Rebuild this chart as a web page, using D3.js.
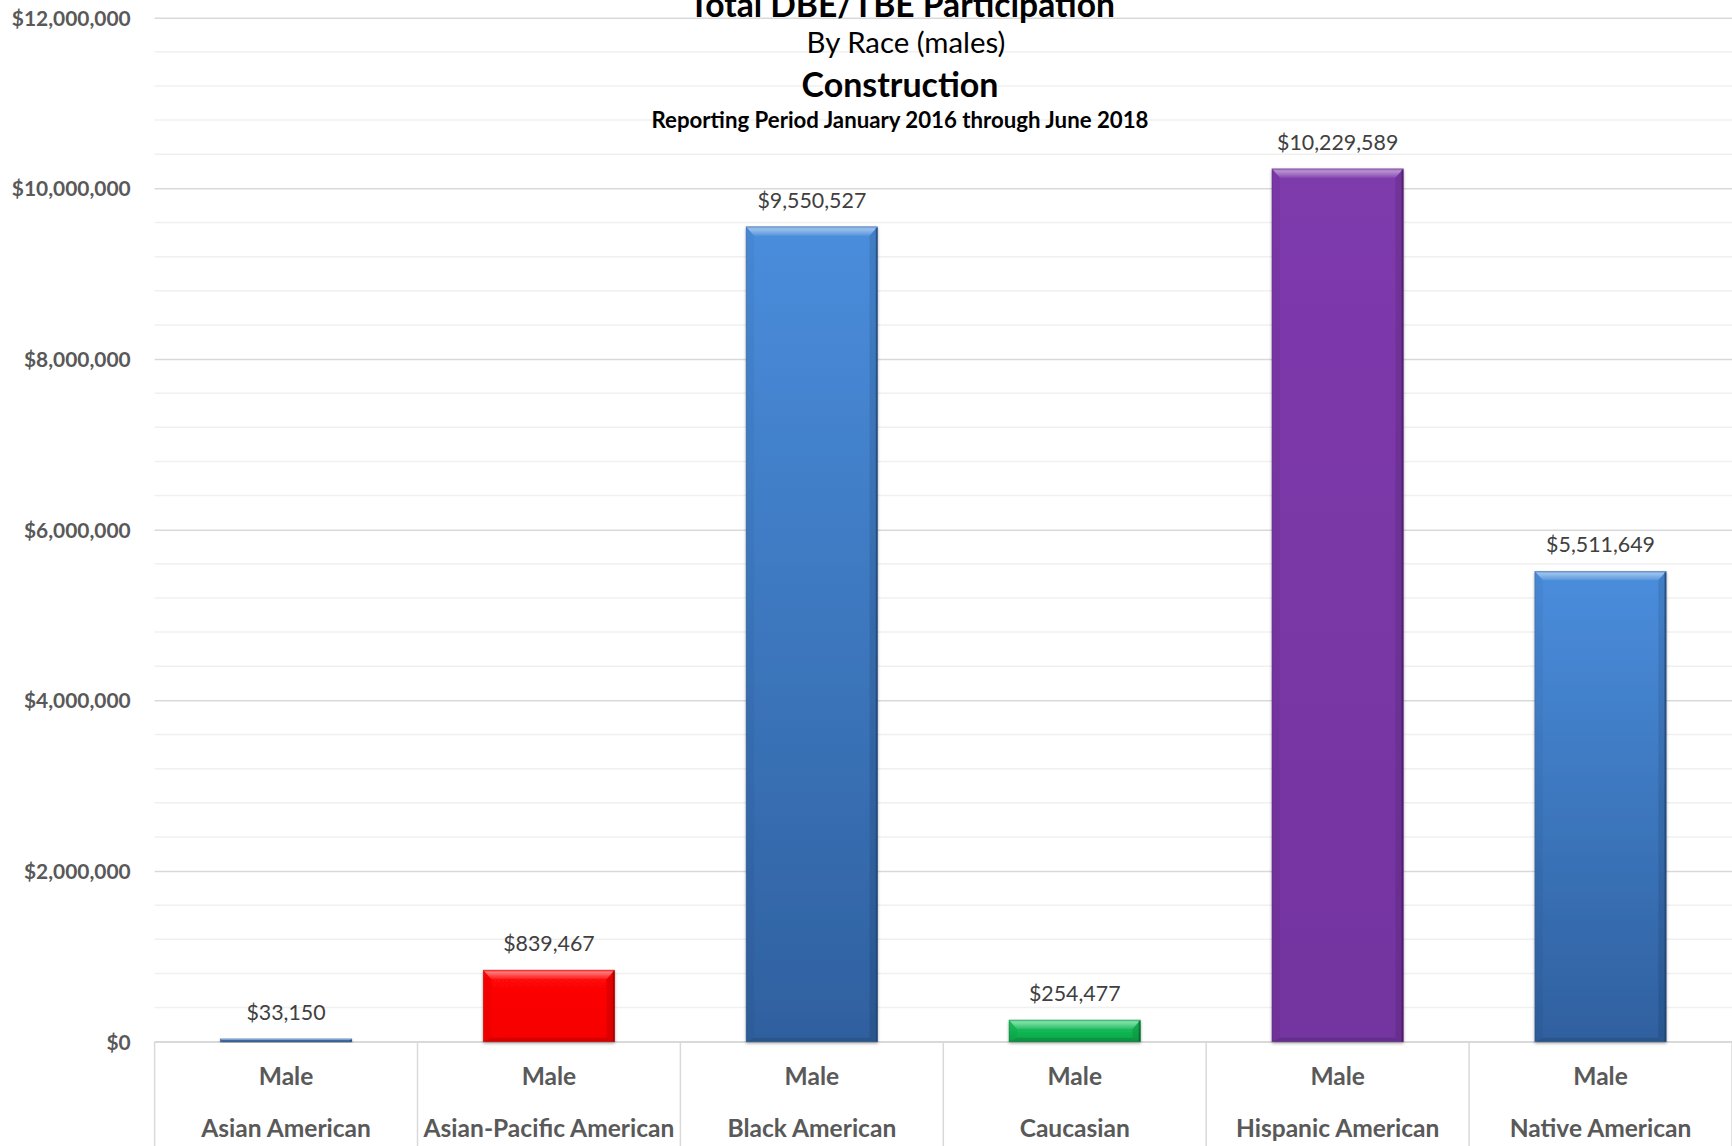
<!DOCTYPE html>
<html>
<head>
<meta charset="utf-8">
<script src="https://cdn.jsdelivr.net/npm/d3@7"></script>
<style>
  html, body { margin: 0; padding: 0; background: #ffffff; }
  svg { display: block; }
</style>
</head>
<body>
<svg id="chart" width="1732" height="1146"></svg>
<script>
// ---------------- data ----------------
const categories = ["Asian American", "Asian-Pacific American", "Black American", "Caucasian", "Hispanic American", "Native American"];
const groupLabel = "Male";
const values = [33150, 839467, 9550527, 254477, 10229589, 5511649];
const yTickValues = [0, 2000000, 4000000, 6000000, 8000000, 10000000, 12000000];
const titleLines = ["Total DBE/TBE Participation", "By Race (males)", "Construction", "Reporting Period January 2016 through June 2018"];

// ---------------- styles ----------------
const barPalette = [
  {top: "#4a8ddc", bottom: "#2f609f", edge: "#1f3f6c"},
  {top: "#ff0808", bottom: "#f50000", edge: "#900000"},
  {top: "#4a8ddc", bottom: "#2f609f", edge: "#1f3f6c"},
  {top: "#1ec862", bottom: "#07a648", edge: "#045a28"},
  {top: "#7e3aac", bottom: "#7434a0", edge: "#45195f"},
  {top: "#4a8ddc", bottom: "#2f609f", edge: "#1f3f6c"}
];
const FONT = "Lato, 'Open Sans', sans-serif";

const W = 1732, H = 1146;
const plot = {left: 154.6, right: 1732, top: 17.7, bottom: 1041.7};

const svg = d3.select("#chart");

// helper: font size that makes a string reach a given width
function fitSize(text, weight, targetW) {
  const t = svg.append("text").attr("font-family", FONT).attr("font-weight", weight)
    .attr("font-size", 100).text(text);
  const w = t.node().getComputedTextLength();
  t.remove();
  return 100 * targetW / w;
}

const y = d3.scaleLinear().domain([0, 12000000]).range([plot.bottom, plot.top]);
const x = d3.scaleBand().domain(categories).range([plot.left, plot.right])
  .paddingInner(0.5).paddingOuter(0.25);

const fmt = d3.format("$,.0f");

// defs
const defs = svg.append("defs");
barPalette.forEach((c, i) => {
  const g = defs.append("linearGradient").attr("id", "grad" + i)
    .attr("x1", 0).attr("y1", 0).attr("x2", 0).attr("y2", 1);
  g.append("stop").attr("offset", "0%").attr("stop-color", c.top);
  g.append("stop").attr("offset", "100%").attr("stop-color", c.bottom);
});
const hl = defs.append("linearGradient").attr("id", "topHL")
  .attr("x1", 0).attr("y1", 0).attr("x2", 0).attr("y2", 1);
hl.append("stop").attr("offset", "0%").attr("stop-color", "#fff").attr("stop-opacity", 0.15);
hl.append("stop").attr("offset", "25%").attr("stop-color", "#fff").attr("stop-opacity", 0.45);
hl.append("stop").attr("offset", "100%").attr("stop-color", "#fff").attr("stop-opacity", 0.08);
const f = defs.append("filter").attr("id", "shadow").attr("x", "-10%").attr("y", "-10%")
  .attr("width", "120%").attr("height", "130%");
f.append("feDropShadow").attr("dx", 0).attr("dy", 1.5).attr("stdDeviation", 1.6)
  .attr("flood-color", "#000").attr("flood-opacity", 0.35);

// minor gridlines
const minorTicks = d3.range(0, 12000001, 400000).filter(v => v % 2000000 !== 0);
svg.append("g").selectAll("line").data(minorTicks).join("line")
  .attr("x1", plot.left).attr("x2", plot.right)
  .attr("y1", d => y(d)).attr("y2", d => y(d))
  .attr("stroke", "#f0f0f0").attr("stroke-width", 1.5);

// major gridlines via axis
const yAxis = d3.axisLeft(y).tickValues(yTickValues).tickFormat(fmt)
  .tickSize(-(plot.right - plot.left)).tickPadding(0);
const gy = svg.append("g").attr("transform", `translate(${plot.left},0)`).call(yAxis);
gy.select(".domain").remove();
gy.selectAll(".tick line").attr("stroke", "#d9d9d9").attr("stroke-width", 1.5);
const tickSize = fitSize("$12,000,000", 700, 119);
gy.selectAll(".tick text")
  .attr("x", 130.7 - plot.left).attr("dy", "0.36em")
  .attr("font-family", FONT).attr("font-weight", 700).attr("font-size", tickSize)
  .attr("fill", "#595959").attr("text-anchor", "end");

// category dividers
const step = x.step();
const bounds = d3.range(categories.length + 1).map(i => plot.left + i * step);
svg.append("g").selectAll("line").data(bounds).join("line")
  .attr("x1", d => d).attr("x2", d => d)
  .attr("y1", plot.bottom).attr("y2", H)
  .attr("stroke", "#d9d9d9").attr("stroke-width", 1.5);

// baseline
svg.append("line").attr("x1", plot.left).attr("x2", plot.right)
  .attr("y1", y(0)).attr("y2", y(0)).attr("stroke", "#d9d9d9").attr("stroke-width", 1.5);

// bars
const bars = svg.append("g").selectAll("g").data(values).join("g")
  .attr("filter", "url(#shadow)");
bars.each(function(v, i) {
  const g = d3.select(this);
  const x0 = x(categories[i]), x1 = x0 + x.bandwidth();
  const y0 = y(v), y1 = y(0);
  const h = y1 - y0;
  const c = barPalette[i];
  g.append("rect").attr("x", x0).attr("y", y0).attr("width", x1 - x0).attr("height", h)
    .attr("fill", `url(#grad${i})`);
  const bt = Math.min(9, h / 2), bs = Math.min(8, h / 2), bb = Math.min(4, h / 2);
  const poly = pts => "M" + pts.map(p => p.join(",")).join("L") + "Z";
  // top bevel
  g.append("path").attr("d", poly([[x0, y0], [x1, y0], [x1 - bs, y0 + bt], [x0 + bs, y0 + bt]]))
    .attr("fill", "url(#topHL)");
  // left bevel
  g.append("path").attr("d", poly([[x0, y0], [x0 + bs, y0 + bt], [x0 + bs, y1 - bb], [x0, y1]]))
    .attr("fill", "#000000").attr("opacity", 0.04);
  // right bevel
  g.append("path").attr("d", poly([[x1, y0], [x1, y1], [x1 - bs, y1 - bb], [x1 - bs, y0 + bt]]))
    .attr("fill", "#000000").attr("opacity", 0.1);
  // bottom bevel
  g.append("path").attr("d", poly([[x0, y1], [x0 + bs, y1 - bb], [x1 - bs, y1 - bb], [x1, y1]]))
    .attr("fill", "#000000").attr("opacity", 0.12);
  // dark right edge
  g.append("line").attr("x1", x1 - 1).attr("x2", x1 - 1).attr("y1", y0 + 1).attr("y2", y1)
    .attr("stroke", c.edge).attr("stroke-width", 1.6).attr("opacity", 0.7);
  g.append("rect").attr("x", x0).attr("y", y0).attr("width", x1 - x0).attr("height", h)
    .attr("fill", "none").attr("stroke", c.edge).attr("stroke-width", 0.7).attr("opacity", 0.45);
});

// data labels
const labelSize = fitSize("$9,550,527", 400, 109);
svg.append("g").selectAll("text").data(values).join("text")
  .attr("x", (d, i) => x(categories[i]) + x.bandwidth() / 2)
  .attr("y", d => y(d) - 19)
  .attr("text-anchor", "middle")
  .attr("font-family", FONT).attr("font-size", labelSize).attr("fill", "#404040")
  .text(d => fmt(d));

// category labels
const catSize = fitSize("Asian-Pacific American", 700, 251);
const xl = svg.append("g");
xl.selectAll("text.grp").data(categories).join("text").attr("class", "grp")
  .attr("x", d => x(d) + x.bandwidth() / 2).attr("y", 1085)
  .attr("text-anchor", "middle").attr("font-family", FONT).attr("font-weight", 700)
  .attr("font-size", catSize).attr("fill", "#595959").text(groupLabel);
xl.selectAll("text.cat").data(categories).join("text").attr("class", "cat")
  .attr("x", d => x(d) + x.bandwidth() / 2).attr("y", 1136.5)
  .attr("text-anchor", "middle").attr("font-family", FONT).attr("font-weight", 700)
  .attr("font-size", catSize).attr("fill", "#595959").text(d => d);

// titles
const titleSpec = [
  {cx: 902, base: 17, weight: 700, w: 426},
  {cx: 906, base: 52.7, weight: 400, w: 199},
  {cx: 900, base: 96.7, weight: 700, w: 197},
  {cx: 900, base: 128.3, weight: 700, w: 497}
];
titleLines.forEach((t, i) => {
  const s = titleSpec[i];
  svg.append("text").attr("x", s.cx).attr("y", s.base).attr("text-anchor", "middle")
    .attr("font-family", FONT).attr("font-weight", s.weight)
    .attr("font-size", fitSize(t, s.weight, s.w)).attr("fill", "#000000").text(t);
});
</script>
</body>
</html>
